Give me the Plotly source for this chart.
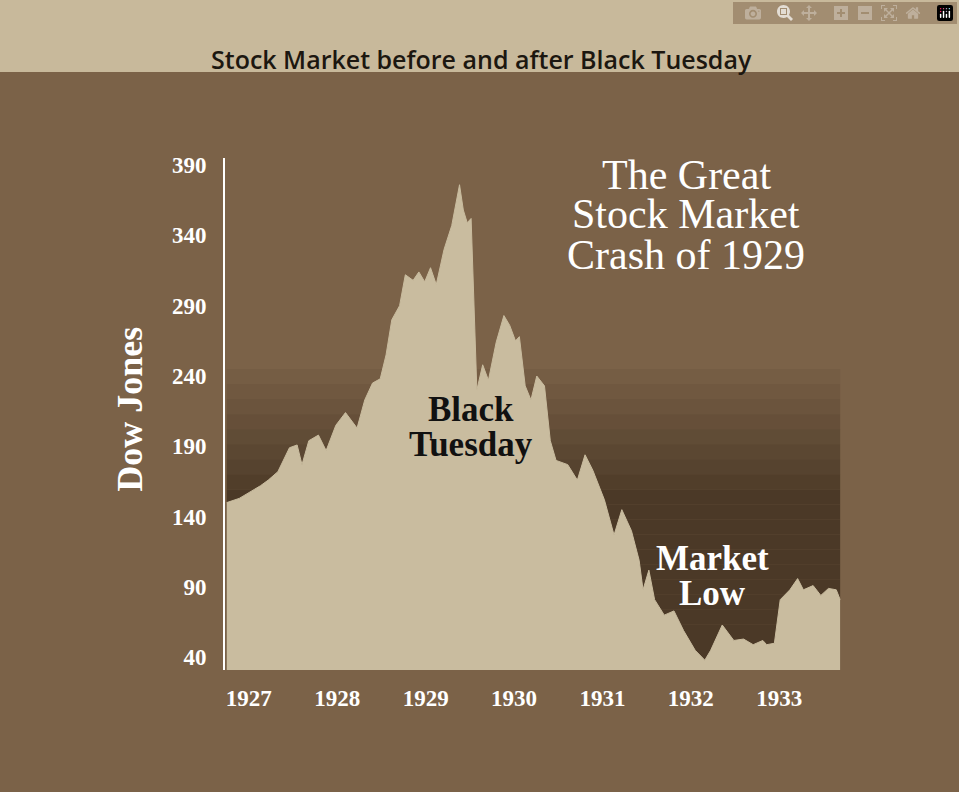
import plotly.graph_objects as go

px_x = [227,240,262,270,280,292,300,305,312,322,330,340,350,358,362,370,378,386,392,398,406,412,420,426,432,438,444,452,460,468,472,476,480,486,492,498,506,514,520,526,530,536,542,548,556,562,568,580,590,598,606,618,628,636,646,654,658,664,670,680,690,700,712,722,728,740,752,762,772,782,786,794,800,810,818,824,834,842,850,858,862]
years = [round(1927 + (x - 250) / 91.5, 3) for x in px_x]
dow = [150,153,162,166,172,189,191,177,194,198,187,205,214,207,203,223,235,238,255,280,290,312,308,314,307,317,305,330,347,376,358,349,352,230,248,237,264,283,276,265,268,233,223,240,233,194,180,177,166,184,173,152,127,145,130,109,88,102,81,70,73,59,45,38,45,63,52,53,49,52,49,50,81,88,96,88,91,84,89,88,81]
tick_years = [1927,1928,1929,1930,1931,1932,1933]
tick_vals_y = [40,90,140,190,240,290,340,390]

x0, x1 = years[0], years[-1]
fig = go.Figure()
steps = 20
for i in range(steps):
    yb = 31 + i * (245 - 31) / steps
    yt = 31 + (i + 1) * (245 - 31) / steps
    a = 0.7 if i < 12 else 0.7 * (steps - i) / (steps - 11)
    fig.add_shape(type="rect", x0=x0, x1=x1, y0=yb, y1=yt, fillcolor=f"rgba(55,40,25,{a:.2f})", line_width=0, layer="below")
fig.add_trace(go.Scatter(x=years, y=dow, mode="lines", fill="tozeroy", line=dict(color="#c9bc9f", width=1), fillcolor="#c9bc9f", hoverinfo="skip"))

tf = dict(family="Liberation Serif", size=23, color="white", weight="bold")
fig.update_layout(
    width=959, height=792, showlegend=False,
    paper_bgcolor="#7b6248", plot_bgcolor="rgba(0,0,0,0)",
    margin=dict(l=225, r=94, t=158, b=122),
    xaxis=dict(range=[1926.73, 1933.97], tickvals=tick_years, ticktext=[str(t) for t in tick_years], showgrid=False, zeroline=False, showline=False, ticks="",
               tickfont=tf, ticklabelstandoff=12),
    yaxis=dict(range=[31, 395], tickvals=tick_vals_y, showgrid=False, zeroline=False, showline=True, linecolor="white", linewidth=2, ticks="",
               tickfont=tf, ticklabelstandoff=12),
)
fig.add_shape(type="rect", xref="paper", yref="paper", x0=-0.36, x1=1.16, y0=1.168, y1=1.32, fillcolor="#c8b99b", line_width=0, layer="below")
fig.add_annotation(xref="paper", yref="paper", x=0.4, y=1.23, text="Stock Market before and after Black Tuesday", showarrow=False,
                   font=dict(family="Open Sans", size=25, color="#1c1710", weight=600))
fig.add_annotation(xref="paper", yref="paper", x=-0.183, y=0.51, text="<b>Dow Jones</b>", textangle=-90, showarrow=False,
                   font=dict(family="Liberation Serif", size=36, color="white"))
for t, yv in [("The Great", 383), ("Stock Market", 355), ("Crash of 1929", 326)]:
    fig.add_annotation(x=1931.95, y=yv, text=t, showarrow=False, font=dict(family="Liberation Serif", size=42, color="white"))
for t, yv in [("Black", 216), ("Tuesday", 191)]:
    fig.add_annotation(x=1929.51, y=yv, text=f"<b>{t}</b>", showarrow=False, font=dict(family="Liberation Serif", size=35, color="#111"))
for t, yv in [("Market", 110), ("Low", 85.5)]:
    fig.add_annotation(x=1932.25, y=yv, text=f"<b>{t}</b>", showarrow=False, font=dict(family="Liberation Serif", size=35, color="white"))
fig.write_html("out.html", post_script="document.body.style.margin='0';document.body.style.background='#7b6248';")
